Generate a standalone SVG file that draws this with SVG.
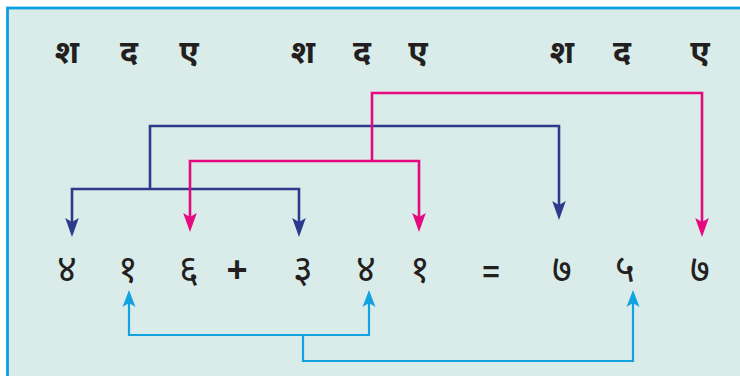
<svg xmlns="http://www.w3.org/2000/svg" width="740" height="376" viewBox="0 0 740 376">
<style>
.lbl{font-family:"Noto Sans Devanagari","Noto Sans","Lohit Devanagari",sans-serif;font-size:32px;font-weight:bold;fill:#231f20;text-anchor:middle}
.dig{font-family:"Noto Sans Devanagari","Noto Sans","Lohit Devanagari",sans-serif;font-size:38px;fill:#231f20;text-anchor:middle}
.op{font-family:"Liberation Sans",Arial,sans-serif;font-weight:bold;fill:#231f20;text-anchor:middle}
.nv{fill:none;stroke:#2e3a8c;stroke-width:2.6}
.pk{fill:none;stroke:#e5087e;stroke-width:2.6}
.lb{fill:none;stroke:#11a2df;stroke-width:2.2}
</style>
<defs>
<marker id="mNv" markerUnits="userSpaceOnUse" viewBox="-12 -8 22 16" refX="0" refY="0" markerWidth="22" markerHeight="16" orient="auto" overflow="visible"><path d="M9,0 L-10,-6.8 L-6,0 L-10,6.8 Z" fill="#2e3a8c"/></marker>
<marker id="mPk" markerUnits="userSpaceOnUse" viewBox="-12 -8 22 16" refX="0" refY="0" markerWidth="22" markerHeight="16" orient="auto" overflow="visible"><path d="M9,0 L-10,-6.8 L-6,0 L-10,6.8 Z" fill="#e5087e"/></marker>
<marker id="mLb" markerUnits="userSpaceOnUse" viewBox="-12 -8 22 16" refX="0" refY="0" markerWidth="22" markerHeight="16" orient="auto" overflow="visible"><path d="M8,0 L-9,-6.5 L-5,0 L-9,6.5 Z" fill="#11a2df"/></marker>
</defs>
<rect x="0" y="0" width="740" height="376" fill="#ffffff"/>
<rect id="frame" x="7.5" y="8" width="740" height="380" fill="#daecea" stroke="#0aa0df" stroke-width="2.8"/>
<g id="top-labels">
<text class="lbl" x="67" y="63">श</text>
<text class="lbl" x="129" y="63">द</text>
<text class="lbl" x="189" y="63">ए</text>
<text class="lbl" x="303" y="63">श</text>
<text class="lbl" x="362" y="63">द</text>
<text class="lbl" x="418" y="63">ए</text>
<text class="lbl" x="562" y="63">श</text>
<text class="lbl" x="622" y="63">द</text>
<text class="lbl" x="700" y="63">ए</text>
</g>
<g id="digits">
<text class="dig" x="67" y="282">४</text>
<text class="dig" x="128" y="282">१</text>
<text class="dig" x="189" y="282">६</text>
<text class="op" x="237" y="282" font-size="36">+</text>
<text class="dig" x="303" y="282">३</text>
<text class="dig" x="366" y="282">४</text>
<text class="dig" x="420" y="282">१</text>
<text class="op" x="491" y="282" font-size="30">=</text>
<text class="dig" x="562" y="282">७</text>
<text class="dig" x="625" y="282">५</text>
<text class="dig" x="700" y="282">७</text>
</g>
<g id="connectors">
<path class="nv" d="M150,189 V126 H559 V211" marker-end="url(#mNv)"/>
<path class="nv" d="M150,189 H72 V228" marker-end="url(#mNv)"/>
<path class="nv" d="M150,189 H299 V228" marker-end="url(#mNv)"/>
<path class="pk" d="M372,161 V93 H702 V228" marker-end="url(#mPk)"/>
<path class="pk" d="M372,161 H190 V223" marker-end="url(#mPk)"/>
<path class="pk" d="M372,161 H419 V223" marker-end="url(#mPk)"/>
<path class="lb" d="M303,335 H129 V298" marker-end="url(#mLb)"/>
<path class="lb" d="M303,335 H369 V298" marker-end="url(#mLb)"/>
<path class="lb" d="M303,335 V361 H633 V298" marker-end="url(#mLb)"/>
</g>
</svg>
